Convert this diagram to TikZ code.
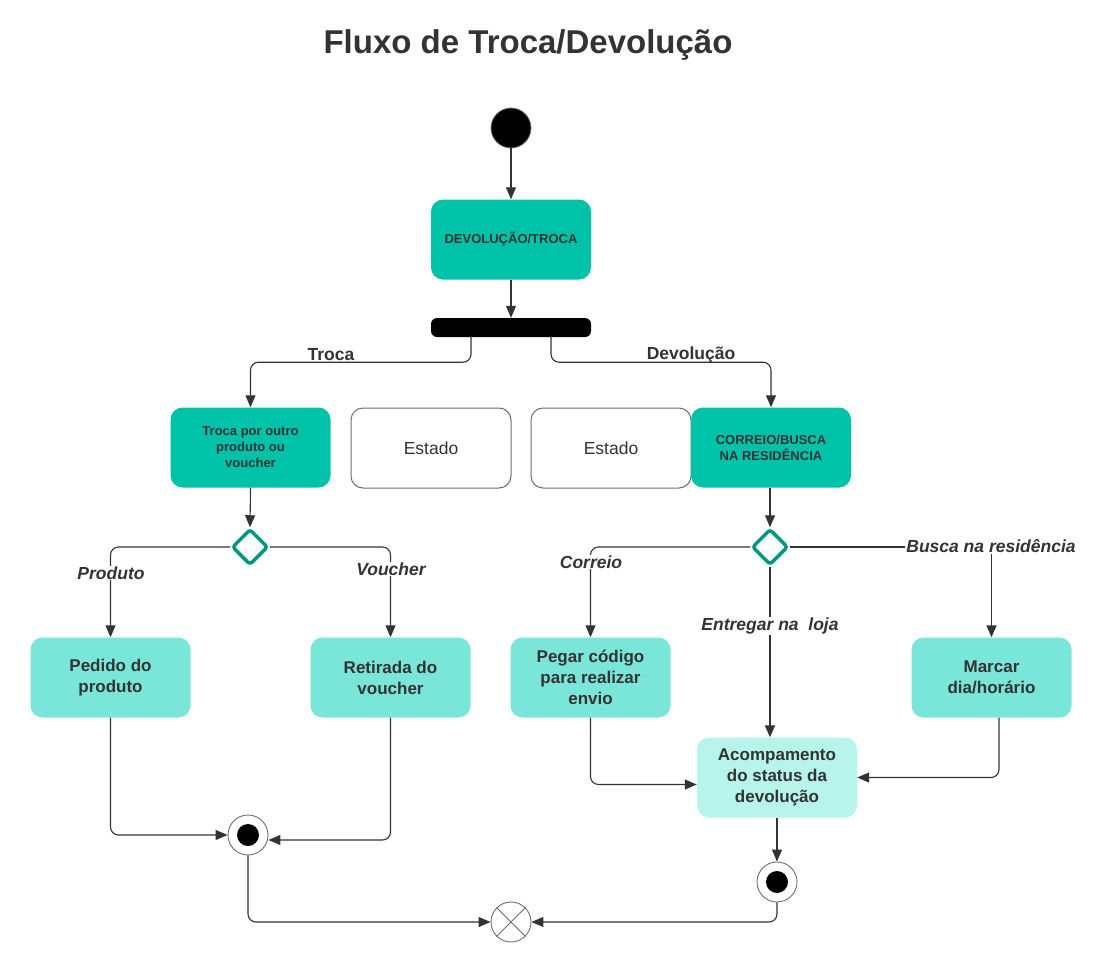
\documentclass[tikz,border=0pt]{standalone}
\usepackage{fontspec}
\setmainfont{Liberation Sans}
\usetikzlibrary{arrows.meta,shapes.geometric,calc}
\definecolor{ink}{HTML}{333333}
\definecolor{tealD}{HTML}{00C2A9}
\definecolor{tealL}{HTML}{79E6D9}
\definecolor{tealXL}{HTML}{B6F4EC}
\definecolor{tealS}{HTML}{00957F}
\definecolor{edge}{HTML}{6E6E6E}
\begin{document}
\begin{tikzpicture}[x=1pt,y=-1pt,
  act/.style={rounded corners=12pt, minimum width=160pt, minimum height=80pt, align=center, text=ink, inner sep=2pt, font=\bfseries\fontsize{17}{21}\selectfont},
  darkact/.style={act, fill=tealD, font=\bfseries\fontsize{13}{16}\selectfont},
  lightact/.style={act, fill=tealL},
  xlact/.style={act, fill=tealXL},
  estado/.style={act, draw=edge, line width=1pt, fill=white, font=\fontsize{17.5}{20}\selectfont},
  decis/.style={diamond, aspect=1, minimum width=36pt, minimum height=36pt, inner sep=0pt, draw=tealS, line width=3.5pt, rounded corners=3pt, fill=white},
  endnode/.style={circle, minimum size=40pt, inner sep=0pt, draw=edge, line width=0.9pt, fill=white},
  conn/.style={draw=ink, line width=1.1pt, rounded corners=8pt, -{Triangle[length=12pt,width=10pt]}},
  lbl/.style={font=\bfseries\itshape\fontsize{17.5}{20}\selectfont, text=ink, fill=white, inner sep=1pt},
  blbl/.style={font=\bfseries\fontsize{17.5}{20}\selectfont, text=ink, inner sep=1pt}
]
\useasboundingbox (0,0) rectangle (1096,964);
\node[font=\bfseries\fontsize{33}{38}\selectfont, text=ink] (title) at (528,45) {Fluxo de Troca/Devolução};

\node[circle, fill=black, draw=edge, line width=0.8pt, minimum size=40pt, inner sep=0pt] (start) at (511,128) {};
\node[darkact] (dev) at (511,239.5) {DEVOLUÇÃO/TROCA};
\node[fill=black, rounded corners=6pt, minimum width=160pt, minimum height=19pt, inner sep=0pt] (fork) at (511,327.5) {};

\node[darkact] (troca) at (250.5,447.5) {Troca por outro\\produto ou\\voucher};
\node[estado] (est1) at (431,448) {Estado};
\node[estado] (est2) at (611,448) {Estado};
\node[darkact] (corr) at (771,447.5) {CORREIO/BUSCA\\NA RESIDÊNCIA};

\node[decis] (d1) at (250,547) {};
\node[decis] (d2) at (770,547) {};

\node[lightact] (pedido) at (110.5,677.5) {Pedido do\\produto};
\node[lightact] (retirada) at (390.5,677.5) {Retirada do\\voucher};
\node[lightact] (pegar) at (590.5,677.5) {Pegar código\\para realizar\\envio};
\node[lightact] (marcar) at (991.5,677.5) {Marcar\\dia/horário};
\node[xlact] (acomp) at (777,777.5) {Acompamento\\do status da\\devolução};

\node[endnode] (f1) at (248,835) {};
\fill[black] (f1.center) circle (11);
\node[endnode] (f2) at (777,882) {};
\fill[black] (f2.center) circle (11);
\node[endnode] (ff) at (511,922) {};
\draw[edge, line width=0.9pt] (ff.north west) -- (ff.south east) (ff.north east) -- (ff.south west);

% connectors
\draw[conn] (start) -- (dev);
\draw[conn] (dev) -- (fork);
\draw[conn] ([xshift=-40pt]fork.south) -- ++(0,25) -| (troca.north);
\draw[conn] ([xshift=40pt]fork.south) -- ++(0,25) -| (corr.north);
\node[blbl] (ltroca) at (331,355) {Troca};
\node[blbl] (ldev) at (691,355) {Devolução};

\draw[conn] (troca.south) -- (d1.north);
\draw[conn] (corr.south -| d2.north) -- (d2.north);

\draw[conn] (d1.west) -| (pedido.north);
\draw[conn] (d1.east) -| (retirada.north);
\node[lbl] (lprod) at (111,573) {Produto};
\node[lbl] (lvouch) at (391,569) {Voucher};

\draw[conn] (d2.west) -| (pegar.north);
\node[lbl] (lcorr) at (591,562) {Correio};
\draw[conn, line width=1.8pt] (d2.south) -- (d2.south |- acomp.north);
\node[lbl] (lent) at (770,626) {Entregar na~ loja};
\draw[conn, line width=1.8pt, rounded corners=0pt] (d2.east) -| (marcar.north);
\node[lbl] (lbus) at (991,546) {Busca na residência};

\draw[conn] (pegar.south) |- ([yshift=-7pt]acomp.west);
\draw[conn] ([xshift=7.5pt]marcar.south) |- (acomp.east);
\draw[conn] (acomp.south -| f2.north) -- (f2.north);

\draw[conn] (pedido.south) |- (f1.west);
\draw[conn] (retirada.south) |- ([yshift=-5pt]f1.east);
\draw[conn] (f1.south) |- (ff.west);
\draw[conn] (f2.south) |- (ff.east);
\end{tikzpicture}
\end{document}
